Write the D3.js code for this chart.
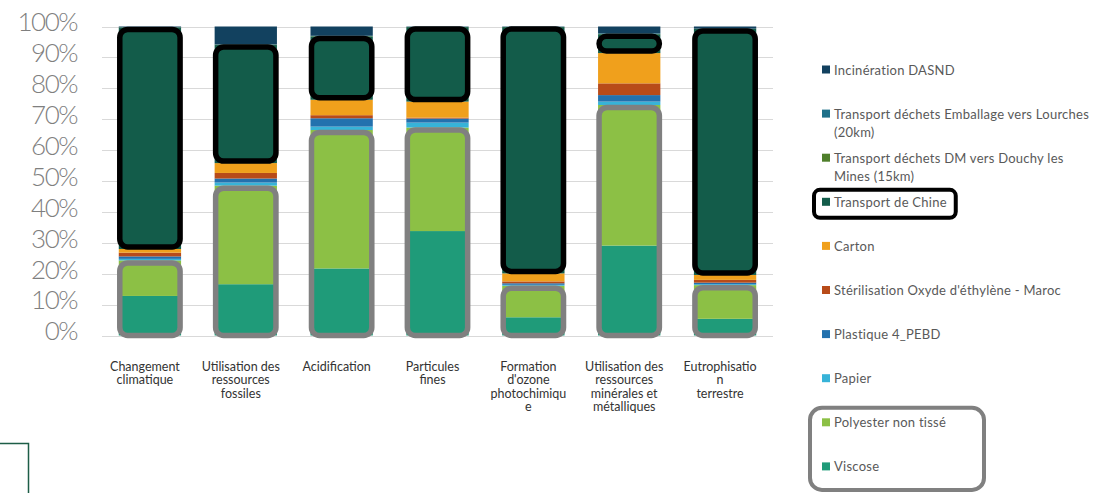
<!DOCTYPE html>
<html>
<head>
<meta charset="utf-8">
<script src="https://cdn.jsdelivr.net/npm/d3@7"></script>
<style>
  html, body { margin: 0; padding: 0; background: #fff; }
  svg { display: block; }
</style>
</head>
<body>
<svg id="chart" width="1104" height="493"></svg>
<script>
// ---------- DATA ----------
const categories = [
  "Changement\nclimatique",
  "Utilisation des\nressources\nfossiles",
  "Acidification",
  "Particules\nfines",
  "Formation\nd'ozone\nphotochimiqu\ne",
  "Utilisation des\nressources\nminérales et\nmétalliques",
  "Eutrophisatio\nn\nterrestre"
];

// series listed bottom -> top of the stack
const seriesNames = [
  "Viscose",
  "Polyester non tissé",
  "Papier",
  "Plastique 4_PEBD",
  "Stérilisation Oxyde d'éthylène - Maroc",
  "Carton",
  "Transport de Chine",
  "Transport déchets DM vers Douchy les\nMines (15km)",
  "Transport déchets Emballage vers Lourches\n(20km)",
  "Incinération DASND"
];

const viscose      = [12.8, 16.6, 21.7, 33.8,  5.9, 29.1,  5.4];
const polyester    = [11.5, 31.9, 44.8, 33.5, 10.2, 45.5, 10.9];
const papier       = [ 0.5,  1.0,  1.1,  1.6,  0.3,  1.1,  0.3];
const plastique    = [ 0.8,  1.3,  2.7,  1.3,  0.5,  2.1,  0.5];
const sterilisation= [ 1.2,  1.8,  1.0,  0.3,  0.6,  3.8,  0.9];
const carton       = [ 1.2,  3.2,  5.0,  5.2,  2.6,  9.8,  1.6];
const transportChine=[71.7, 38.2, 20.5, 24.1, 79.7,  6.1, 79.6];
const transportDM  = [0.05,  0.1,  0.1, 0.05, 0.05,  0.1, 0.05];
const transportEmb = [0.05,  0.1,  0.1, 0.05, 0.05,  0.2, 0.05];
const incineration = [ 0.2,  5.8,  3.0,  0.1,  0.1,  2.2,  0.7];

const seriesValues = [viscose, polyester, papier, plastique, sterilisation,
                      carton, transportChine, transportDM, transportEmb, incineration];

const seriesColors = ["#1f9b79", "#8cc045", "#37b3d8", "#2371ae", "#b84b19",
                      "#f0a01c", "#135c4a", "#4f7f2b", "#1e7089", "#12415f"];

const yTicks = [0, 0.1, 0.2, 0.3, 0.4, 0.5, 0.6, 0.7, 0.8, 0.9, 1.0];

// ---------- BUILD TABLE ----------
const rows = categories.map((c, i) => {
  const r = { cat: c };
  seriesNames.forEach((s, k) => { r[s] = seriesValues[k][i]; });
  return r;
});

const stack = d3.stack().keys(seriesNames).offset(d3.stackOffsetExpand);
const stacked = stack(rows);

// ---------- SCALES ----------
const svg = d3.select("#chart");
const x = d3.scaleBand().domain(categories).range([102, 773])
  .paddingInner(0.35).paddingOuter(0.175);
const y = d3.scaleLinear().domain([0, 1]).range([335.5, 26.5]);
const color = d3.scaleOrdinal().domain(seriesNames).range(seriesColors);

// ---------- GRID ----------
svg.append("g").selectAll("line").data(yTicks).join("line")
  .attr("x1", 102).attr("x2", 773)
  .attr("y1", d => Math.round(y(d)) + 0.5).attr("y2", d => Math.round(y(d)) + 0.5)
  .attr("stroke", "#d9d9d9").attr("stroke-width", 1);

// ---------- Y AXIS ----------
const yAxis = svg.append("g").attr("transform", "translate(79,0)")
  .call(d3.axisLeft(y).tickValues(yTicks).tickFormat(d3.format(".0%")).tickSize(0).tickPadding(2));
yAxis.select(".domain").remove();
yAxis.selectAll("text")
  .attr("dy", "0.32em").attr("y", -4)
  .style("font-family", "Lato, 'Open Sans', sans-serif")
  .style("font-weight", 300)
  .style("font-size", "26px")
  .style("letter-spacing", "-1.5px")
  .style("fill", "#7f7f7f");

// ---------- BARS ----------
const layers = svg.append("g").selectAll("g").data(stacked).join("g")
  .attr("fill", d => color(d.key));
layers.selectAll("rect").data(d => d).join("rect")
  .attr("x", d => x(d.data.cat))
  .attr("width", x.bandwidth())
  .attr("y", d => y(d[1]))
  .attr("height", d => Math.max(0, y(d[0]) - y(d[1])));

// ---------- HIGHLIGHT OUTLINES ----------
const chineLayer = stacked.find(s => s.key === "Transport de Chine");
const polyLayer = stacked.find(s => s.key === "Polyester non tissé");
const viscLayer = stacked.find(s => s.key === "Viscose");
const sw = 5.5;

const og = svg.append("g").attr("fill", "none");
og.selectAll("rect.black").data(chineLayer).join("rect")
  .attr("class", "black")
  .attr("x", d => x(d.data.cat) + 1)
  .attr("width", x.bandwidth() - 2)
  .attr("y", d => y(d[1]) + 2)
  .attr("height", d => Math.max(1, y(d[0]) - y(d[1]) - 4))
  .attr("rx", d => Math.min(8, (y(d[0]) - y(d[1]) - 4) / 2))
  .attr("stroke", "#000").attr("stroke-width", sw);

og.selectAll("rect.gray").data(categories).join("rect")
  .attr("class", "gray")
  .attr("x", c => x(c) + 1)
  .attr("width", x.bandwidth() - 2)
  .attr("y", (c, i) => y(polyLayer[i][1]) + 2.5)
  .attr("height", (c, i) => y(viscLayer[i][0]) - y(polyLayer[i][1]) - 2.5)
  .attr("rx", 8)
  .attr("stroke", "#808080").attr("stroke-width", sw);

// ---------- CATEGORY LABELS ----------
const lg = svg.append("g")
  .style("font-family", "Lato, 'Open Sans', sans-serif")
  .style("font-size", "12.5px")
  .style("fill", "#333");
categories.forEach(c => {
  const cx = x(c) + x.bandwidth() / 2 - 5;
  const t = lg.append("text")
    .attr("text-anchor", "middle")
    .attr("x", cx)
    .attr("y", 371);
  c.split("\n").forEach((line, j) => {
    t.append("tspan").attr("x", cx)
      .attr("dy", j === 0 ? 0 : 13.3).text(line);
  });
});

// ---------- LEGEND ----------
const legendOrder = seriesNames.slice().reverse();
const leg = svg.append("g")
  .style("font-family", "Lato, 'Open Sans', sans-serif")
  .style("font-size", "13px")
  .style("letter-spacing", "0.25px")
  .style("fill", "#595959");
const legY = i => 70 + i * 44.1;
const legendTexts = {};
legendOrder.forEach((name, i) => {
  leg.append("rect").attr("x", 822).attr("y", legY(i) - 4.5)
    .attr("width", 8).attr("height", 8).attr("fill", color(name));
  const t = leg.append("text").attr("x", 834).attr("y", legY(i) + 4.5);
  name.split("\n").forEach((line, j) => {
    t.append("tspan").attr("x", 834).attr("dy", j === 0 ? 0 : 18).text(line);
  });
  legendTexts[name] = t;
});

// box around "Transport de Chine"
{
  const i = legendOrder.indexOf("Transport de Chine");
  const bb = legendTexts["Transport de Chine"].node().getBBox();
  svg.append("rect")
    .attr("x", 814).attr("y", legY(i) - 12.5)
    .attr("width", bb.x + bb.width + 9 - 814).attr("height", 28)
    .attr("rx", 6).attr("fill", "none")
    .attr("stroke", "#000").attr("stroke-width", 4);
}
// box around Polyester + Viscose
{
  const i0 = legendOrder.indexOf("Polyester non tissé");
  const i1 = legendOrder.indexOf("Viscose");
  svg.append("rect")
    .attr("x", 810).attr("y", legY(i0) - 15)
    .attr("width", 174).attr("height", legY(i1) - legY(i0) + 38)
    .attr("rx", 12).attr("fill", "none")
    .attr("stroke", "#808080").attr("stroke-width", 4);
}

// ---------- stray frame corner at bottom-left ----------
svg.append("path")
  .attr("d", "M0,443.5 H28.5 V493")
  .attr("fill", "none").attr("stroke", "#1d5e47").attr("stroke-width", 1.5);
</script>
</body>
</html>
